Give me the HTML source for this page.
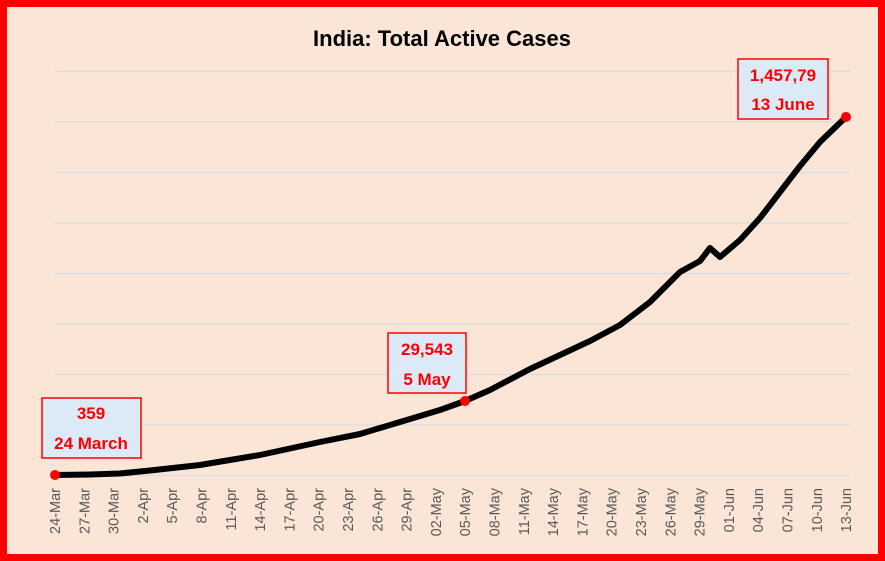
<!DOCTYPE html>
<html><head><style>
body{margin:0;background:#fff}
svg{display:block}
</style></head><body>
<svg width="885" height="561" xmlns="http://www.w3.org/2000/svg" font-family="Liberation Sans, sans-serif">
<rect x="3.5" y="3.5" width="878" height="554" fill="#fbe5d6" stroke="#ff0000" stroke-width="7"/>
<text x="442" y="46" text-anchor="middle" font-size="22" font-weight="bold" fill="#000">India: Total Active Cases</text>
<g stroke="#d6dde6" stroke-width="1.3">
<line x1="55" x2="851" y1="71.5" y2="71.5"/><line x1="55" x2="851" y1="122" y2="122"/>
<line x1="55" x2="851" y1="172.5" y2="172.5"/><line x1="55" x2="851" y1="223" y2="223"/>
<line x1="55" x2="851" y1="273.5" y2="273.5"/><line x1="55" x2="851" y1="324" y2="324"/>
<line x1="55" x2="851" y1="374.5" y2="374.5"/><line x1="55" x2="851" y1="425" y2="425"/>
<line x1="55" x2="851" y1="475.5" y2="475.5"/>
</g>
<polyline fill="none" stroke="#000" stroke-width="6" stroke-linejoin="round" stroke-linecap="round"
points="55,475 90,474.5 120,473.5 150,470.5 200,465 260,455 320,442 360,434 400,422 440,410 465,401 490,390 530,369 560,355 590,341 620,325 650,302 680,272 700,261 710,248 720,257 740,240 760,218 780,192 800,166 820,142 846,117"/>
<circle cx="55" cy="475" r="5" fill="#ff0000"/>
<circle cx="465" cy="401" r="5" fill="#ff0000"/>
<circle cx="846" cy="117" r="5" fill="#ff0000"/>
<g font-weight="bold" fill="#ff0000" text-anchor="middle" font-size="17">
<rect x="42" y="398" width="99" height="60" fill="#dce9f6" stroke="#ff0000" stroke-width="1.5"/>
<text x="91" y="419">359</text><text x="91" y="449">24 March</text>
<rect x="388" y="333" width="78" height="60" fill="#dce9f6" stroke="#ff0000" stroke-width="1.5"/>
<text x="427" y="355">29,543</text><text x="427" y="385">5 May</text>
<rect x="738" y="59" width="90" height="60" fill="#dce9f6" stroke="#ff0000" stroke-width="1.5"/>
<text x="783" y="81">1,457,79</text><text x="783" y="110">13 June</text>
</g>
<g font-size="14.5" fill="#595959" text-anchor="end">
<text transform="translate(60,488) rotate(-90)">24-Mar</text>
<text transform="translate(89.3,488) rotate(-90)">27-Mar</text>
<text transform="translate(118.6,488) rotate(-90)">30-Mar</text>
<text transform="translate(147.9,488) rotate(-90)">2-Apr</text>
<text transform="translate(177.2,488) rotate(-90)">5-Apr</text>
<text transform="translate(206.5,488) rotate(-90)">8-Apr</text>
<text transform="translate(235.8,488) rotate(-90)">11-Apr</text>
<text transform="translate(265.1,488) rotate(-90)">14-Apr</text>
<text transform="translate(294.4,488) rotate(-90)">17-Apr</text>
<text transform="translate(323.7,488) rotate(-90)">20-Apr</text>
<text transform="translate(353,488) rotate(-90)">23-Apr</text>
<text transform="translate(382.3,488) rotate(-90)">26-Apr</text>
<text transform="translate(411.6,488) rotate(-90)">29-Apr</text>
<text transform="translate(440.9,488) rotate(-90)">02-May</text>
<text transform="translate(470.2,488) rotate(-90)">05-May</text>
<text transform="translate(499.5,488) rotate(-90)">08-May</text>
<text transform="translate(528.8,488) rotate(-90)">11-May</text>
<text transform="translate(558.1,488) rotate(-90)">14-May</text>
<text transform="translate(587.4,488) rotate(-90)">17-May</text>
<text transform="translate(616.7,488) rotate(-90)">20-May</text>
<text transform="translate(646,488) rotate(-90)">23-May</text>
<text transform="translate(675.3,488) rotate(-90)">26-May</text>
<text transform="translate(704.6,488) rotate(-90)">29-May</text>
<text transform="translate(733.9,488) rotate(-90)">01-Jun</text>
<text transform="translate(763.2,488) rotate(-90)">04-Jun</text>
<text transform="translate(792.5,488) rotate(-90)">07-Jun</text>
<text transform="translate(821.8,488) rotate(-90)">10-Jun</text>
<text transform="translate(851,488) rotate(-90)">13-Jun</text>
</g>
</svg>
</body></html>
